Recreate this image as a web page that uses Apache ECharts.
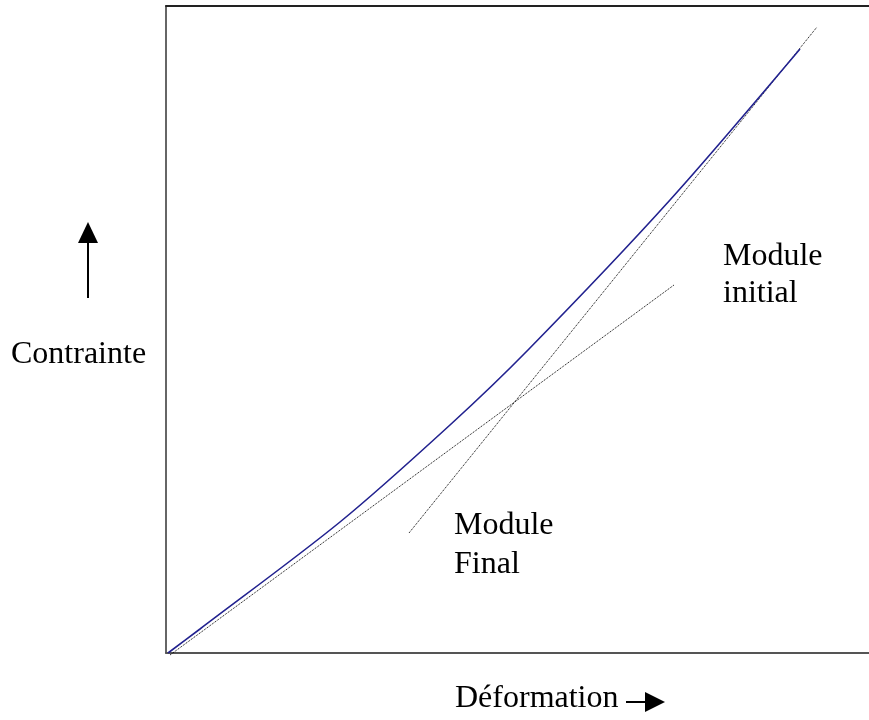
<!DOCTYPE html>
<html>
<head>
<meta charset="utf-8">
<title>Contrainte / Déformation</title>
<script src="https://cdn.jsdelivr.net/npm/echarts@6/dist/echarts.min.js"></script>
<style>
  html, body { margin: 0; padding: 0; background: #fff; }
  #chart { width: 869px; height: 720px; }
</style>
</head>
<body>
<div id="chart"></div>
<script>
// courbe contrainte-déformation (unités arbitraires)
const strain = [2, 34, 174, 284, 362, 504, 634]
const stress = [0, 24, 131, 228, 303, 453, 604]

// tangentes : module initial et module final
const initialX = [4, 508]
const initialY = [-2, 368]
const finalX = [243, 651]
const finalY = [120, 626]

const serif = '"Liberation Serif", "Times New Roman", serif'

const chart = echarts.init(document.getElementById('chart'))

const dotted = { color: '#000', width: 1, type: [1, 1] }

chart.setOption({
  animation: false,
  grid: { left: 166, right: 0, top: 6, bottom: 67 },
  xAxis: [
    {
      type: 'value', min: 0, max: 703,
      axisLine: { show: true, lineStyle: { color: '#555', width: 2 } },
      axisTick: { show: false }, axisLabel: { show: false }, splitLine: { show: false }
    },
    {
      type: 'value', min: 0, max: 703, position: 'top',
      axisLine: { show: true, lineStyle: { color: '#222', width: 2 } },
      axisTick: { show: false }, axisLabel: { show: false }, splitLine: { show: false }
    }
  ],
  yAxis: {
    type: 'value', min: 0, max: 647,
    axisLine: { show: true, lineStyle: { color: '#333', width: 1.5 } },
    axisTick: { show: false }, axisLabel: { show: false }, splitLine: { show: false }
  },
  series: [
    {
      name: 'Module initial',
      type: 'line',
      clip: false,
      showSymbol: false,
      data: initialX.map((x, i) => [x, initialY[i]]),
      lineStyle: dotted
    },
    {
      name: 'Module final',
      type: 'line',
      clip: false,
      showSymbol: false,
      data: finalX.map((x, i) => [x, finalY[i]]),
      lineStyle: dotted
    },
    {
      name: 'Contrainte',
      type: 'line',
      smooth: 0.3,
      showSymbol: false,
      data: strain.map((x, i) => [x, stress[i]]),
      lineStyle: { color: '#22228f', width: 1.6 }
    }
  ],
  graphic: [
    // flèche verticale
    { type: 'line', shape: { x1: 88, y1: 298, x2: 88, y2: 240 }, style: { stroke: '#000', lineWidth: 2 } },
    { type: 'polygon', shape: { points: [[88, 222], [78, 243], [98, 243]] }, style: { fill: '#000' } },
    // flèche horizontale
    { type: 'line', shape: { x1: 626, y1: 702, x2: 647, y2: 702 }, style: { stroke: '#000', lineWidth: 2 } },
    { type: 'polygon', shape: { points: [[665, 702], [645, 692], [645, 712]] }, style: { fill: '#000' } },
    // textes
    { type: 'text', style: { text: 'Contrainte', x: 11, y: 355, font: '32px ' + serif, fill: '#000', textVerticalAlign: 'middle' } },
    { type: 'text', style: { text: 'Déformation', x: 455, y: 699, font: '32px ' + serif, fill: '#000', textVerticalAlign: 'middle' } },
    { type: 'text', style: { text: 'Module', x: 723, y: 257, font: '32px ' + serif, fill: '#000', textVerticalAlign: 'middle' } },
    { type: 'text', style: { text: 'initial', x: 723, y: 294, font: '32px ' + serif, fill: '#000', textVerticalAlign: 'middle' } },
    { type: 'text', style: { text: 'Module', x: 454, y: 526, font: '32px ' + serif, fill: '#000', textVerticalAlign: 'middle' } },
    { type: 'text', style: { text: 'Final', x: 454, y: 565, font: '32px ' + serif, fill: '#000', textVerticalAlign: 'middle' } }
  ]
})
</script>
</body>
</html>
